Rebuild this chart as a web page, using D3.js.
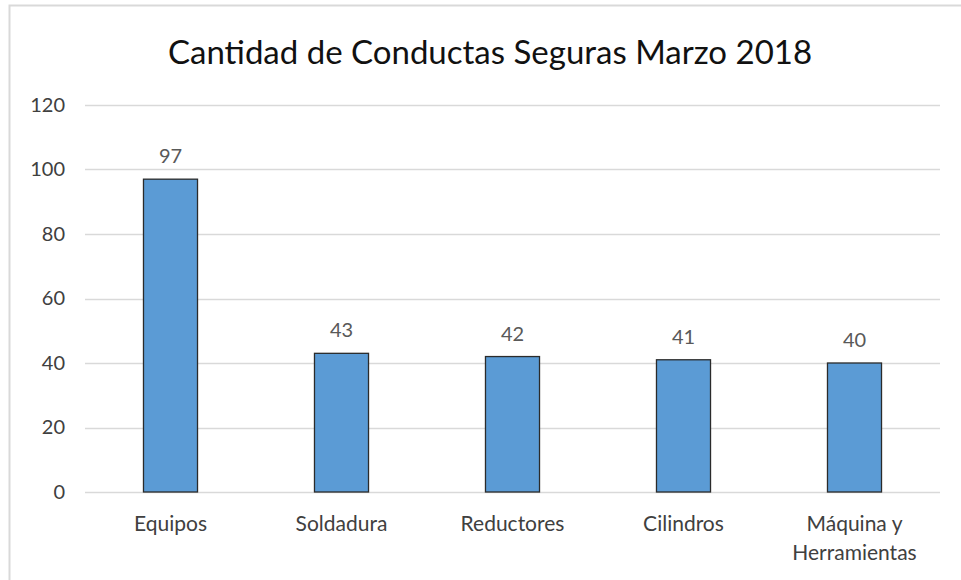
<!DOCTYPE html>
<html>
<head>
<meta charset="utf-8">
<script src="https://cdn.jsdelivr.net/npm/d3@7"></script>
<style>
  body { margin: 0; background: #fff; }
  text { font-family: Lato, "Open Sans", sans-serif; }
</style>
</head>
<body>
<div id="chart"></div>
<script>
const categories = ["Equipos", "Soldadura", "Reductores", "Cilindros", "Máquina y\nHerramientas"];
const values = [97, 43, 42, 41, 40];
const yTicks = [0, 20, 40, 60, 80, 100, 120];
const title = "Cantidad de Conductas Seguras Marzo 2018";

let margin = {top: 105, right: 21, bottom: 88, left: 85},
  width = 961 - margin.left - margin.right,
  height = 580 - margin.top - margin.bottom;

let root = d3.select("#chart")
  .append("svg")
  .attr("width", 961)
  .attr("height", 580);

// chart area border
root.append("rect")
  .attr("x", 9.5).attr("y", 5.5)
  .attr("width", 961).attr("height", 600)
  .attr("fill", "none")
  .attr("stroke", "#d9d9d9")
  .attr("stroke-width", 2);

root.append("text")
  .attr("x", 490)
  .attr("y", 64)
  .attr("text-anchor", "middle")
  .style("font-size", "33px")
  .style("fill", "#111")
  .text(title);

let svg = root.append("g")
  .attr("transform", "translate(" + margin.left + "," + margin.top + ")");

let x = d3.scaleBand()
  .domain(categories)
  .range([0, width])
  .padding(0);

let y = d3.scaleLinear()
  .domain([0, 120])
  .range([height, 0]);

// gridlines
svg.append("g")
  .selectAll("line")
  .data(yTicks)
  .join("line")
  .attr("x1", 0)
  .attr("x2", width)
  .attr("y1", (d) => Math.round(y(d)) + 0.5)
  .attr("y2", (d) => Math.round(y(d)) + 0.5)
  .attr("stroke", "#d9d9d9")
  .attr("stroke-width", 1.5);

let yAxis = svg.append("g")
  .attr("transform", "translate(-20,0)")
  .call(d3.axisLeft(y).tickValues(yTicks).tickSize(0).tickPadding(0));
yAxis.select(".domain").remove();
yAxis.selectAll("text")
  .style("font-size", "20px")
  .style("fill", "#404040")
  .style("font-family", "Lato, 'Open Sans', sans-serif");

let barW = x.bandwidth() * 0.316;

svg.selectAll(".bar")
  .data(values)
  .join("rect")
  .attr("class", "bar")
  .attr("x", (d, i) => x(categories[i]) + x.bandwidth() / 2 - barW / 2)
  .attr("y", (d) => y(d))
  .attr("width", barW)
  .attr("height", (d) => height - y(d))
  .attr("fill", "#5b9bd5")
  .attr("stroke", "#2b2b2b")
  .attr("stroke-width", 1.3);

svg.selectAll(".label")
  .data(values)
  .join("text")
  .attr("class", "label")
  .attr("x", (d, i) => x(categories[i]) + x.bandwidth() / 2)
  .attr("y", (d) => y(d) - 16)
  .attr("text-anchor", "middle")
  .style("font-size", "20px")
  .style("fill", "#595959")
  .text((d) => d);

let xAxis = svg.append("g")
  .attr("transform", "translate(0," + height + ")");
categories.forEach(function (c) {
  let lines = c.split("\n");
  let t = xAxis.append("text")
    .attr("x", x(c) + x.bandwidth() / 2)
    .attr("y", 39)
    .attr("text-anchor", "middle")
    .style("font-size", "21px")
    .style("fill", "#404040");
  lines.forEach(function (l, j) {
    t.append("tspan")
      .attr("x", x(c) + x.bandwidth() / 2)
      .attr("dy", j === 0 ? 0 : 29)
      .text(l);
  });
});
</script>
</body>
</html>
